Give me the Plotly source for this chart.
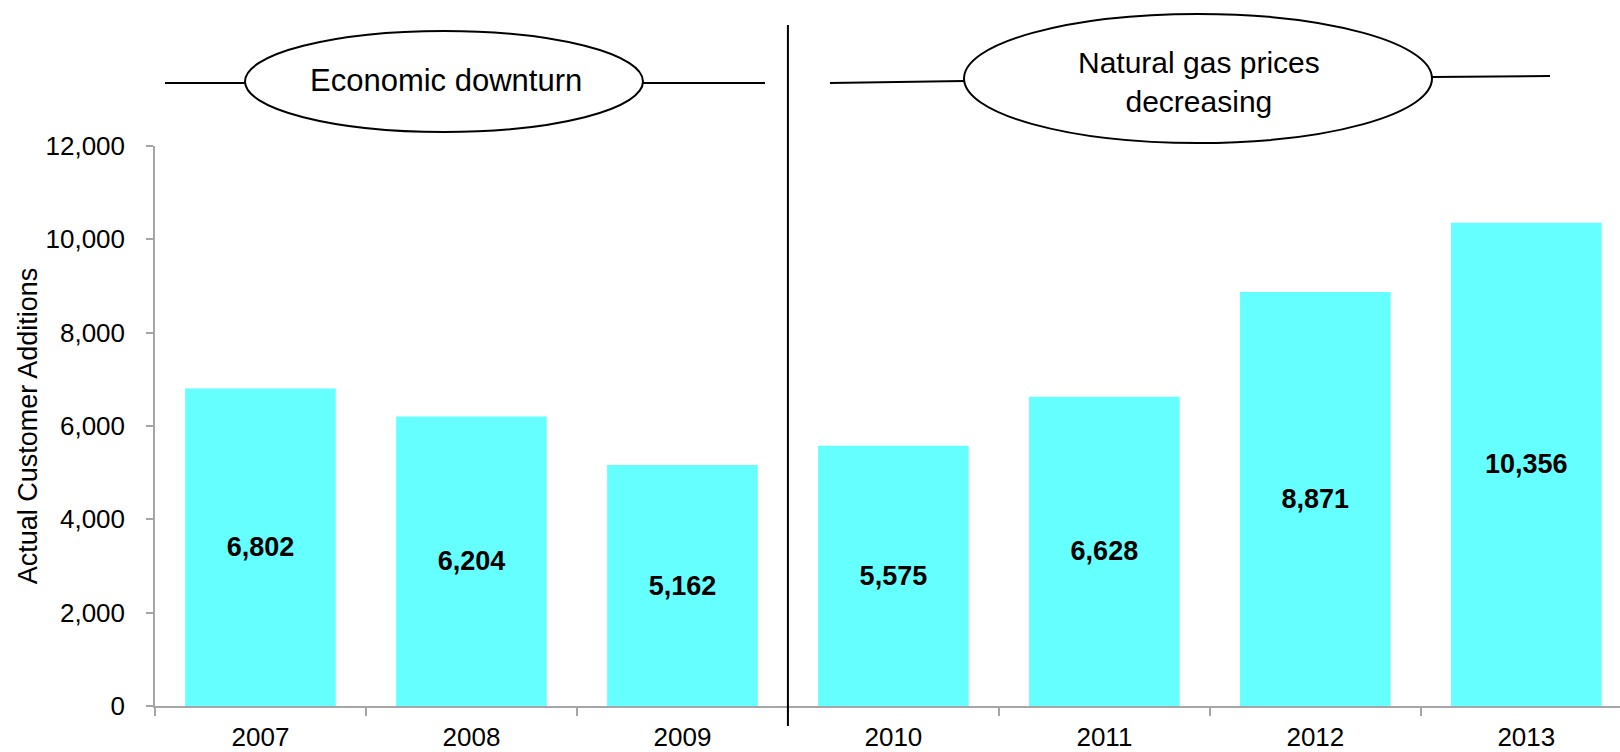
import plotly.graph_objects as go

# ---- data ----
years = ["2007", "2008", "2009", "2010", "2011", "2012", "2013"]
additions = [6802, 6204, 5162, 5575, 6628, 8871, 10356]
y_ticks = [0, 2000, 4000, 6000, 8000, 10000, 12000]
y_tick_labels = ["0", "2,000", "4,000", "6,000", "8,000", "10,000", "12,000"]
period_labels = ["Economic downturn", "Natural gas prices<br>decreasing"]

FONT = "Liberation Sans, Arial, Helvetica, sans-serif"
W, H = 1620, 752
ML, MR, MT, MB = 155, 0, 146, 46
PLOT_W = W - ML - MR
PLOT_H = H - MT - MB
X_RANGE = [-0.5, 6.444]
CAT_PX = PLOT_W / (X_RANGE[1] - X_RANGE[0])


def xd(px):
    """pixel x -> data x"""
    return (px - ML) / CAT_PX + X_RANGE[0]


def yp(py):
    """pixel y -> paper y"""
    return (H - MB - py) / PLOT_H


fig = go.Figure()
fig.add_trace(go.Bar(
    x=years,
    y=additions,
    marker=dict(color="rgb(102,255,255)", line=dict(width=0)),
    width=0.714,
    text=[f"{v:,}" for v in additions],
    textposition="inside",
    insidetextanchor="middle",
    textangle=0,
    textfont=dict(family=FONT, size=27, color="black", weight="bold"),
    constraintext="none",
    hoverinfo="x+y",
))

shapes = []
line_style = dict(color="black", width=2)
# vertical divider between 2009 and 2010
shapes.append(dict(type="line", xref="x", yref="paper", x0=2.5, x1=2.5,
                   y0=yp(726), y1=yp(25), line=line_style))
# left bracket lines + ellipse
shapes.append(dict(type="line", xref="x", yref="paper", x0=xd(165), x1=xd(245),
                   y0=yp(83), y1=yp(83), line=line_style))
shapes.append(dict(type="line", xref="x", yref="paper", x0=xd(643), x1=xd(765),
                   y0=yp(83), y1=yp(83), line=line_style))
shapes.append(dict(type="circle", xref="x", yref="paper", x0=xd(245), x1=xd(643),
                   y0=yp(132), y1=yp(31), line=line_style, fillcolor="white"))
# right bracket lines + ellipse
shapes.append(dict(type="line", xref="x", yref="paper", x0=xd(830), x1=xd(964),
                   y0=yp(83), y1=yp(81), line=line_style))
shapes.append(dict(type="line", xref="x", yref="paper", x0=xd(1432), x1=xd(1550),
                   y0=yp(77), y1=yp(76), line=line_style))
shapes.append(dict(type="circle", xref="x", yref="paper", x0=xd(964), x1=xd(1432),
                   y0=yp(143), y1=yp(14), line=line_style, fillcolor="white"))

annotations = [
    dict(text=period_labels[0], xref="x", yref="paper", x=xd(445.5), y=yp(81),
         xanchor="center", yanchor="middle", showarrow=False,
         font=dict(family=FONT, size=31, color="black")),
    dict(text=period_labels[1], xref="x", yref="paper", x=xd(1198.5), y=yp(82),
         xanchor="center", yanchor="middle", showarrow=False,
         font=dict(family=FONT, size=30, color="black")),
]

fig.update_layout(
    width=W, height=H,
    margin=dict(l=ML, r=MR, t=MT, b=MB, pad=0),
    paper_bgcolor="white", plot_bgcolor="white",
    showlegend=False,
    shapes=shapes,
    annotations=annotations,
    bargap=0.286,
    font=dict(family=FONT, color="black"),
    xaxis=dict(
        type="category",
        range=X_RANGE,
        showgrid=False, zeroline=False,
        showline=True, linecolor="#a6a6a6", linewidth=1.5,
        ticks="outside", tickson="boundaries", ticklen=8, tickcolor="#a6a6a6",
        tickwidth=1.5,
        tickfont=dict(family=FONT, size=26, color="black"),
        ticklabelstandoff=7,
    ),
    yaxis=dict(
        range=[0, 12000],
        tickvals=y_ticks, ticktext=y_tick_labels,
        showgrid=False, zeroline=False,
        showline=True, linecolor="#a6a6a6", linewidth=1.5,
        ticks="outside", ticklen=7, tickcolor="#a6a6a6", tickwidth=1.5,
        tickfont=dict(family=FONT, size=26, color="black"),
        ticklabelstandoff=16,
        title=dict(text="Actual Customer Additions", standoff=0,
                   font=dict(family=FONT, size=27, color="black")),
    ),
)

fig.write_html("out.html")
